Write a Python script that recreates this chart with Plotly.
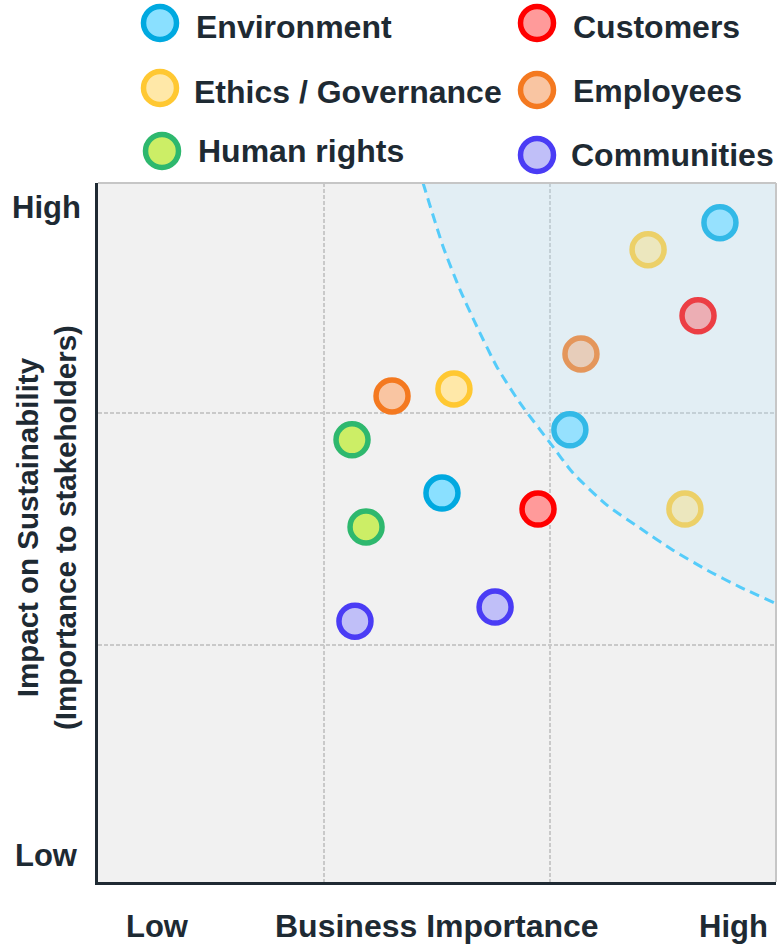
import plotly.graph_objects as go

# ---------------- data ----------------
categories = ["Environment", "Ethics / Governance", "Human rights",
              "Customers", "Employees", "Communities"]

env_x = [2.752, 2.088, 1.522]
env_y = [2.819, 1.927, 1.655]
ethics_x = [2.434, 1.575, 2.597]
ethics_y = [2.703, 2.103, 1.586]
human_x = [1.124, 1.186]
human_y = [1.884, 1.509]
customers_x = [2.655, 1.947]
customers_y = [2.418, 1.586]
employees_x = [2.137, 1.301]
employees_y = [2.254, 2.073]
communities_x = [1.137, 1.757]
communities_y = [1.103, 1.164]

series_x = [env_x, ethics_x, human_x, customers_x, employees_x, communities_x]
series_y = [env_y, ethics_y, human_y, customers_y, employees_y, communities_y]

# materiality threshold curve
curve_x = [1.438, 1.527, 1.602, 1.677, 1.765, 1.867, 2.000, 2.102,
           2.252, 2.398, 2.544, 2.695, 2.841, 2.996]
curve_y = [2.991, 2.716, 2.530, 2.371, 2.198, 2.043, 1.871, 1.741,
           1.603, 1.504, 1.409, 1.323, 1.250, 1.181]

x_tick_labels = ["Low", "Business Importance", "High"]
y_tick_labels = ["Low", "High"]
y_title = "Impact on Sustainability<br>(Importance to stakeholders)"

# ---------------- styles ----------------
border_colors = ["#00a9e0", "#ffc832", "#2eb86e", "#ff0000", "#f47920", "#4a3cf5"]
fill_colors = ["#8ae0ff", "#ffe8a8", "#ccee66", "#ff9a9a", "#f9c5a2", "#c0bff8"]
FONT = "Liberation Sans, Arial, sans-serif"
TEXT = "#1e2a33"

W, H = 779, 951
ML, MR, MB = 98, 3, 69
plot_w = W - ML - MR       # 678 px
plot_h = H - MB            # 882 px (top margin 0)
main_top = 183             # pixel y of main plot top


def px_paper(px):
    return (px - ML) / plot_w


def py_paper(py):
    return (plot_h - py) / plot_h


fig = go.Figure()

# main scatter markers
for name, xs, ys, bc, fc in zip(categories, series_x, series_y, border_colors, fill_colors):
    fig.add_trace(go.Scatter(
        x=xs, y=ys, mode="markers", name=name, showlegend=False,
        marker=dict(size=32, color=fc, line=dict(color=bc, width=5.5)),
        xaxis="x", yaxis="y", hoverinfo="x+y+name"))

# shaded overlay (drawn over markers, translucent)
fig.add_trace(go.Scatter(
    x=curve_x + [3.0, 3.0], y=curve_y + [2.99, 2.99],
    mode="lines", fill="toself", fillcolor="rgba(185,229,253,0.27)",
    line=dict(width=0), showlegend=False, hoverinfo="skip",
    xaxis="x", yaxis="y"))

# dashed threshold curve
fig.add_trace(go.Scatter(
    x=curve_x, y=curve_y, mode="lines",
    line=dict(color="#55ccfa", width=3, dash="10px,6px", shape="spline", smoothing=0.6),
    showlegend=False, hoverinfo="skip", xaxis="x", yaxis="y"))

# ---------------- custom legend (pixel-coordinate overlay axis) ----------------
legend_marker_x = [160, 160, 162, 537, 537, 537]
legend_marker_y = [23, 88, 151, 23, 90, 155]
legend_text_x = [194, 192, 196, 571, 571, 569]
legend_text_y = [27, 92, 151, 27, 91, 155]

for i, name in enumerate(categories):
    fig.add_trace(go.Scatter(
        x=[legend_marker_x[i]], y=[legend_marker_y[i]], mode="markers",
        marker=dict(size=33, color=fill_colors[i], line=dict(color=border_colors[i], width=5.5)),
        showlegend=False, hoverinfo="skip", xaxis="x2", yaxis="y2", cliponaxis=False))

annotations = []
for i, name in enumerate(categories):
    annotations.append(dict(
        x=px_paper(legend_text_x[i]), y=py_paper(legend_text_y[i]),
        xref="paper", yref="paper",
        text=name, showarrow=False, xanchor="left", yanchor="middle",
        font=dict(family=FONT, size=32, color=TEXT, weight="bold")))

for lbl, px, sz in zip(x_tick_labels, [157, 437, 733], [31, 32, 31]):
    annotations.append(dict(
        x=px_paper(px), y=py_paper(926), xref="paper", yref="paper", text=lbl,
        showarrow=False, xanchor="center", yanchor="middle",
        font=dict(family=FONT, size=sz, color=TEXT, weight="bold")))

for lbl, py in zip(y_tick_labels, [855, 207]):
    annotations.append(dict(
        x=px_paper(47), y=py_paper(py), xref="paper", yref="paper", text=lbl,
        showarrow=False, xanchor="center", yanchor="middle",
        font=dict(family=FONT, size=31, color=TEXT, weight="bold")))

annotations.append(dict(
    x=px_paper(46), y=py_paper(528), xref="paper", yref="paper", text=y_title,
    showarrow=False, textangle=-90, xanchor="center", yanchor="middle",
    font=dict(family=FONT, size=29.5, color=TEXT, weight="bold")))

shapes = [
    # plot background
    dict(type="rect", xref="x domain", yref="y domain", x0=0, x1=1, y0=0, y1=1,
         fillcolor="#f1f1f1", line=dict(width=0), layer="below"),
    # light top and right border
    dict(type="line", xref="x domain", yref="y domain", x0=0, x1=1, y0=1, y1=1,
         line=dict(color="#c6c6c6", width=2)),
    dict(type="line", xref="x domain", yref="y domain", x0=1, x1=1, y0=0, y1=1,
         line=dict(color="#c6c6c6", width=2)),
]

fig.update_layout(
    width=W, height=H,
    margin=dict(l=ML, r=MR, t=0, b=MB, pad=0),
    paper_bgcolor="white", plot_bgcolor="rgba(0,0,0,0)",
    showlegend=False,
    xaxis=dict(domain=[0, 1], range=[0, 3], tickvals=[1, 2], showticklabels=False,
               ticks="", showgrid=True, gridcolor="#c9c9c9", gridwidth=2,
               griddash="4px,2px", zeroline=False, showline=True,
               linecolor="#1f2a33", linewidth=3, anchor="y", fixedrange=True),
    yaxis=dict(domain=[0, (plot_h - main_top) / plot_h], range=[-0.02, 2.99],
               tickvals=[1, 2], showticklabels=False, ticks="", showgrid=True,
               gridcolor="#c9c9c9", gridwidth=2, griddash="4px,2px",
               zeroline=False, showline=True, linecolor="#1f2a33", linewidth=3,
               anchor="x", fixedrange=True),
    xaxis2=dict(domain=[0, 1], range=[ML, W - MR], visible=False, anchor="y2",
                fixedrange=True),
    yaxis2=dict(domain=[1 - 178 / plot_h, 1], range=[178, 0], visible=False,
                anchor="x2", fixedrange=True),
    annotations=annotations,
    shapes=shapes,
)

fig.write_html("out.html", config={"displayModeBar": False},
               post_script="document.body.style.margin='0';document.body.style.padding='0';")
